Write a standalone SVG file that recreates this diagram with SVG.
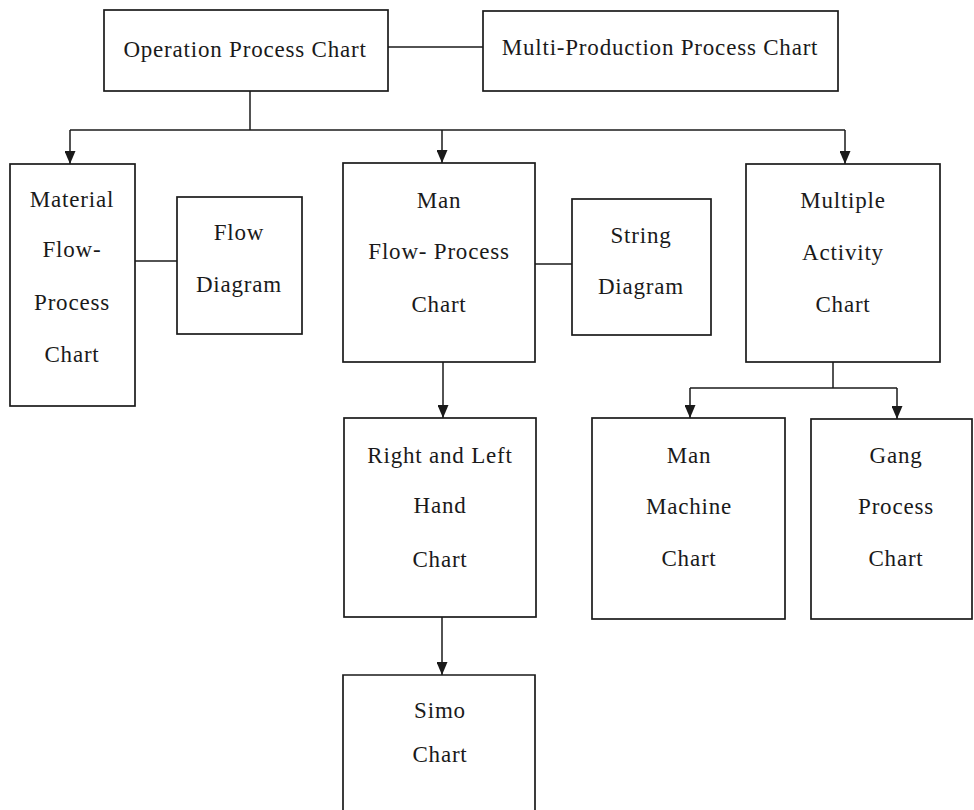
<svg xmlns="http://www.w3.org/2000/svg" width="974" height="810" viewBox="0 0 974 810">
  <defs>
    <marker id="head" viewBox="0 0 13 11" refX="13" refY="5.5" markerWidth="13" markerHeight="11" markerUnits="userSpaceOnUse" orient="auto">
      <path d="M0,0 L13,5.5 L0,11 Z" fill="#1a1a1a"/>
    </marker>
  </defs>
  <style>
    .box { fill: #ffffff; stroke: #1a1a1a; stroke-width: 1.7; }
    .lbl { font-family: "Liberation Serif", "Times New Roman", serif; font-size: 23px; letter-spacing: 0.8px; fill: #1a1a1a; text-anchor: middle; }
    .wire { fill: none; stroke: #1a1a1a; stroke-width: 1.5; }
    .arr { fill: none; stroke: #1a1a1a; stroke-width: 1.5; marker-end: url(#head); }
  </style>
  <rect width="974" height="810" fill="#ffffff"/>

  <g id="connectors">
    <!-- top pair -->
    <line class="wire" x1="388" y1="47" x2="483" y2="47"/>
    <!-- trunk from Operation Process Chart -->
    <line class="wire" x1="250" y1="91" x2="250" y2="130"/>
    <line class="wire" x1="70" y1="130" x2="845" y2="130"/>
    <line class="arr" x1="70" y1="130" x2="70" y2="164"/>
    <line class="arr" x1="442" y1="130" x2="442" y2="163"/>
    <line class="arr" x1="845" y1="130" x2="845" y2="164"/>
    <!-- side links -->
    <line class="wire" x1="135" y1="261" x2="177" y2="261"/>
    <line class="wire" x1="535" y1="264" x2="572" y2="264"/>
    <!-- man flow chain -->
    <line class="arr" x1="443" y1="362" x2="443" y2="418"/>
    <line class="arr" x1="442" y1="617" x2="442" y2="675"/>
    <!-- multiple activity branches -->
    <line class="wire" x1="833" y1="362" x2="833" y2="388"/>
    <line class="wire" x1="690" y1="388" x2="897" y2="388"/>
    <line class="arr" x1="690" y1="388" x2="690" y2="418"/>
    <line class="arr" x1="897" y1="388" x2="897" y2="419"/>
  </g>

  <g id="operation-process-chart">
    <rect class="box" x="104" y="10" width="284" height="81"/>
    <text class="lbl" x="245" y="57">Operation Process Chart</text>
  </g>

  <g id="multi-production-process-chart">
    <rect class="box" x="483" y="11" width="355" height="80"/>
    <text class="lbl" x="660" y="55">Multi-Production Process Chart</text>
  </g>

  <g id="material-flow-process-chart">
    <rect class="box" x="10" y="164" width="125" height="242"/>
    <text class="lbl" x="72" y="207">Material</text>
    <text class="lbl" x="72" y="257">Flow-</text>
    <text class="lbl" x="72" y="310">Process</text>
    <text class="lbl" x="72" y="362">Chart</text>
  </g>

  <g id="flow-diagram">
    <rect class="box" x="177" y="197" width="125" height="137"/>
    <text class="lbl" x="239" y="240">Flow</text>
    <text class="lbl" x="239" y="292">Diagram</text>
  </g>

  <g id="man-flow-process-chart">
    <rect class="box" x="343" y="163" width="192" height="199"/>
    <text class="lbl" x="439" y="208">Man</text>
    <text class="lbl" x="439" y="259">Flow- Process</text>
    <text class="lbl" x="439" y="312">Chart</text>
  </g>

  <g id="string-diagram">
    <rect class="box" x="572" y="199" width="139" height="136"/>
    <text class="lbl" x="641" y="243">String</text>
    <text class="lbl" x="641" y="294">Diagram</text>
  </g>

  <g id="multiple-activity-chart">
    <rect class="box" x="746" y="164" width="194" height="198"/>
    <text class="lbl" x="843" y="208">Multiple</text>
    <text class="lbl" x="843" y="260">Activity</text>
    <text class="lbl" x="843" y="312">Chart</text>
  </g>

  <g id="right-and-left-hand-chart">
    <rect class="box" x="344" y="418" width="192" height="199"/>
    <text class="lbl" x="440" y="463">Right and Left</text>
    <text class="lbl" x="440" y="513">Hand</text>
    <text class="lbl" x="440" y="567">Chart</text>
  </g>

  <g id="simo-chart">
    <path class="box" d="M343,812 V675 H535 V812"/>
    <text class="lbl" x="440" y="718">Simo</text>
    <text class="lbl" x="440" y="762">Chart</text>
  </g>

  <g id="man-machine-chart">
    <rect class="box" x="592" y="418" width="193" height="201"/>
    <text class="lbl" x="689" y="463">Man</text>
    <text class="lbl" x="689" y="514">Machine</text>
    <text class="lbl" x="689" y="566">Chart</text>
  </g>

  <g id="gang-process-chart">
    <rect class="box" x="811" y="419" width="161" height="200"/>
    <text class="lbl" x="896" y="463">Gang</text>
    <text class="lbl" x="896" y="514">Process</text>
    <text class="lbl" x="896" y="566">Chart</text>
  </g>
</svg>
